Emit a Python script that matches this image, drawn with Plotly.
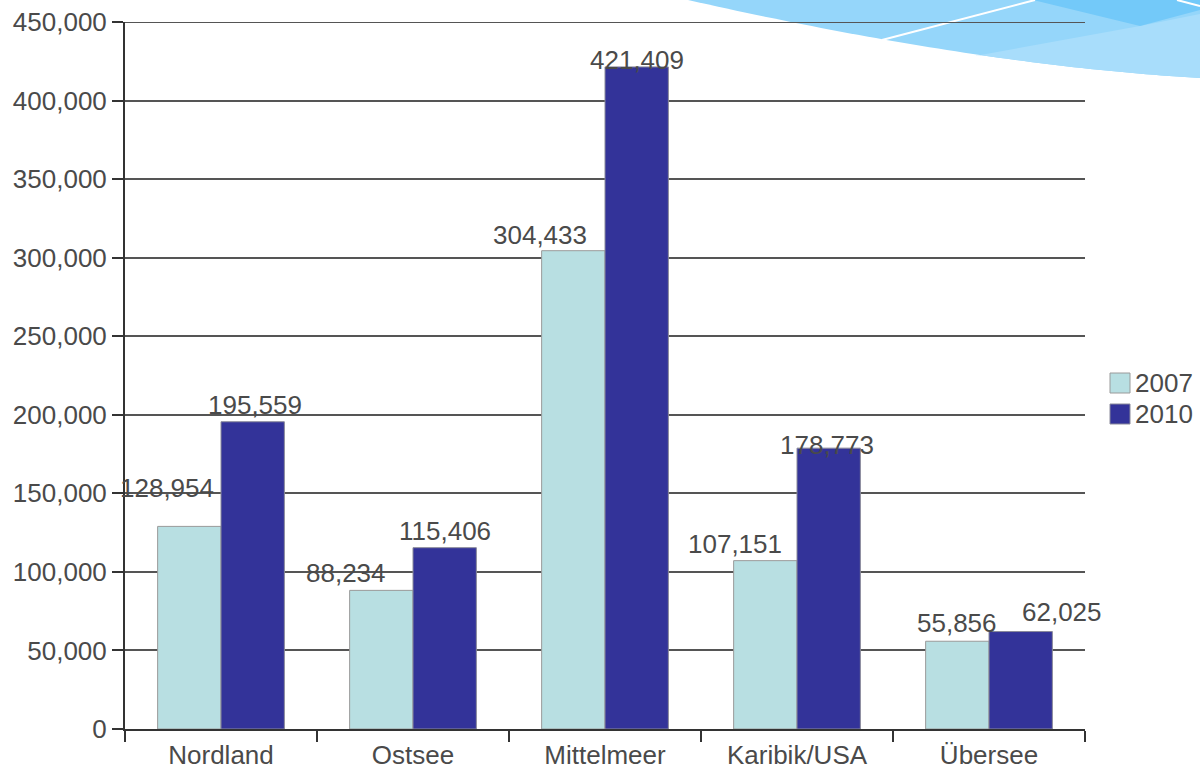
import numpy as np
import plotly.graph_objects as go

# Passenger numbers by cruise region
regions = ["Nordland", "Ostsee", "Mittelmeer", "Karibik/USA", "Übersee"]
values_2007 = [128954, 88234, 304433, 107151, 55856]
values_2010 = [195559, 115406, 421409, 178773, 62025]
series_names = ["2007", "2010"]
y_ticks = [0, 50000, 100000, 150000, 200000, 250000, 300000, 350000, 400000, 450000]

# Label nudges (pixels) so neighbouring value labels do not collide
label_dx_2007 = [-22, -35, -33, -30, 0]
label_dx_2010 = [2, 0, 0, -2, 41]
label_dy_2007 = [21, 0, -1, 0, 1]
label_dy_2010 = [0, 0, -10, -14, 3]

W, H = 1200, 779
ML, MR, MT, MB = 125, 115, 22, 50
PW, PH = W - ML - MR, H - MT - MB

FONT = "Liberation Sans, Arial, sans-serif"
FS = 26
TXT = "#4a4a4a"
GRID = "#555"
C2007 = "#b8dfe2"
C2010 = "#333399"
BAR_GAP = 0.34


def px(x, y):
    """Pixel position -> paper coordinates."""
    return (x - ML) / PW, (H - MB - y) / PH


def path(points, close=True):
    pts = [px(x, y) for x, y in points]
    d = "M " + " L ".join(f"{a:.5f},{b:.5f}" for a, b in pts)
    return d + (" Z" if close else "")


fig = go.Figure()
fig.add_trace(go.Bar(x=regions, y=values_2007, name=series_names[0],
                     marker=dict(color=C2007, line=dict(color="#9a9a9a", width=1)),
                     showlegend=False))
fig.add_trace(go.Bar(x=regions, y=values_2010, name=series_names[1],
                     marker=dict(color=C2010, line=dict(color="#8a8a9a", width=1)),
                     showlegend=False))

# Value labels above the bars
bar_w = PW / len(regions) * (1 - BAR_GAP) / 2
annotations = []
for vals, side, dxs, dys in ((values_2007, -1, label_dx_2007, label_dy_2007),
                             (values_2010, 1, label_dx_2010, label_dy_2010)):
    for cat, v, dx, dy in zip(regions, vals, dxs, dys):
        annotations.append(dict(
            x=cat, y=v, xref="x", yref="y", text=f"{v:,}", showarrow=False,
            xanchor="center", yanchor="bottom",
            xshift=side * bar_w / 2 + dx, yshift=dy,
            font=dict(family=FONT, size=FS, color=TXT)))

# Legend drawn by hand: square swatches with labels
shapes = []
for i, (name, col, line_col) in enumerate(((series_names[0], C2007, "#9a9a9a"),
                                            (series_names[1], C2010, "#8a8a9a"))):
    top = 373 + i * 31
    x0, y0 = px(1110, top)
    x1, y1 = px(1130, top + 20)
    shapes.append(dict(type="rect", xref="paper", yref="paper",
                       x0=x0, x1=x1, y0=y1, y1=y0, fillcolor=col,
                       line=dict(color=line_col, width=1)))
    tx, ty = px(1133, top + 10)
    annotations.append(dict(x=tx, y=ty, xref="paper", yref="paper", text=name,
                            showarrow=False, xanchor="left", yanchor="middle",
                            font=dict(family=FONT, size=FS, color=TXT)))

# Decorative sky-blue swoosh in the top-right corner
t = np.linspace(0, 1, 60)
p0, c, p2 = np.array([688, 0]), np.array([976, 65]), np.array([1200, 78])
curve = [tuple(((1 - s) ** 2) * p0 + 2 * (1 - s) * s * c + (s ** 2) * p2) for s in t]
shapes.append(dict(type="path", xref="paper", yref="paper", layer="below",
                   path=path(curve + [(1200, 0)]), fillcolor="#95d6fa",
                   line=dict(width=0)))
lower = [pt for pt in curve if pt[0] >= 975]
shapes.append(dict(type="path", xref="paper", yref="paper", layer="below",
                   path=path([(975, 56), (1140, 26), (1200, 14), (1200, 78)] + lower[::-1]),
                   fillcolor="#a8ddfb", line=dict(width=0)))
shapes.append(dict(type="path", xref="paper", yref="paper", layer="below",
                   path=path([(1033, 0), (1140, 26), (1200, 10), (1200, 0)]),
                   fillcolor="#73c9f9", line=dict(width=0)))
shapes.append(dict(type="path", xref="paper", yref="paper", layer="below",
                   path=path([(882, 40), (1035, 0)], close=False),
                   line=dict(color="white", width=2)))
shapes.append(dict(type="path", xref="paper", yref="paper", layer="below",
                   path=path([(1177, 0), (1200, 6)], close=False),
                   line=dict(color="white", width=2)))

# Top gridline at the upper end of the value range
shapes.append(dict(type="line", xref="paper", yref="y", layer="below",
                   x0=0, x1=1, y0=y_ticks[-1], y1=y_ticks[-1],
                   line=dict(color=GRID, width=2)))

fig.update_layout(
    width=W, height=H,
    margin=dict(l=ML, r=MR, t=MT, b=MB, pad=0, autoexpand=False),
    paper_bgcolor="white", plot_bgcolor="rgba(0,0,0,0)",
    barmode="group", bargap=BAR_GAP, bargroupgap=0,
    font=dict(family=FONT, size=FS, color=TXT),
    showlegend=False,
    annotations=annotations, shapes=shapes,
)
fig.update_xaxes(type="category", range=[-0.5, len(regions) - 0.5],
                 automargin=False,
                 showline=True, linecolor="#333", linewidth=2,
                 ticks="outside", tickson="boundaries", ticklen=11,
                 tickcolor="#333", tickwidth=2, showgrid=False,
                 ticklabelstandoff=2,
                 tickfont=dict(family=FONT, size=FS, color=TXT))
fig.update_yaxes(range=[0, y_ticks[-1]], tickvals=y_ticks, tickformat=",d",
                 automargin=False,
                 showline=True, linecolor="#333", linewidth=2,
                 ticks="outside", ticklen=11, tickcolor="#333", tickwidth=2,
                 showgrid=True, gridcolor=GRID, gridwidth=2, zeroline=False,
                 tickfont=dict(family=FONT, size=FS, color=TXT))

fig.write_html("out.html")
